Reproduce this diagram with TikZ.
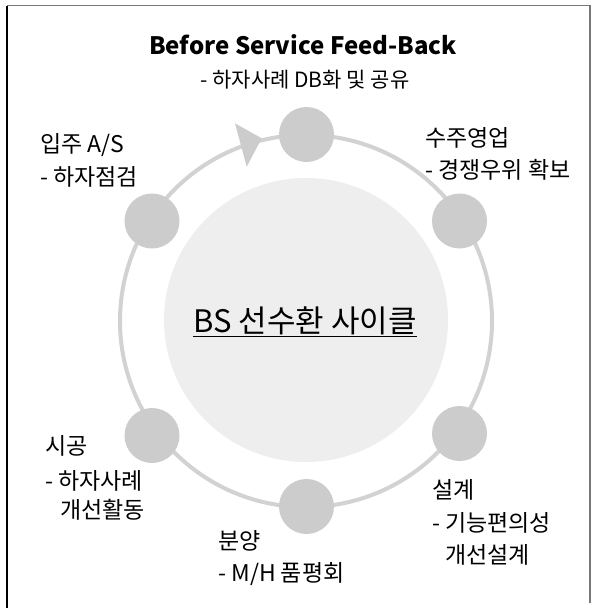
\documentclass[tikz,border=0pt]{standalone}
\usepackage{fontspec}
\setmainfont{Noto Sans CJK KR}
\definecolor{nodegray}{HTML}{CCCCCC}
\definecolor{ringgray}{HTML}{D2D2D2}
\definecolor{innergray}{HTML}{EEEEEE}
\definecolor{framegray}{HTML}{777777}
\begin{document}
\begin{tikzpicture}[x=1pt,y=-1pt,
  stage/.style={circle,fill=nodegray,minimum size=55pt,inner sep=0pt},
  lbl/.style={anchor=west,inner sep=0pt,font=\fontsize{23}{26}\selectfont},
  title/.style={anchor=center,inner sep=0pt,font=\fontsize{24}{28}\selectfont\bfseries},
  sub/.style={anchor=center,inner sep=0pt,font=\fontsize{21}{24}\selectfont}]
\useasboundingbox (0,0) rectangle (595,608);
\fill[white] (0,0) rectangle (595,608);
% frame
\draw[black,line width=1.2pt] (7,5.5) -- (7,608);
\draw[framegray,line width=1.5pt] (7,5.5) -- (590,5.5) -- (590,603);
% inner disc and ring
\fill[innergray] (306,320) circle (142pt);
\draw[ringgray,line width=4pt] (306,321) circle (186pt);
% arrow head on ring
\fill[nodegray] (235,123.3) -- (261.7,138.3) -- (246.7,166.7) -- cycle;
% stage nodes
\node[stage] (top) at (306.5,134.5) {};
\node[stage] (rt) at (459.5,221) {};
\node[stage] (rb) at (459.5,433.5) {};
\node[stage] (bot) at (306.5,506.5) {};
\node[stage] (lb) at (152,435.5) {};
\node[stage] (lt) at (152,221) {};
% center text
\node[inner sep=0pt,font=\fontsize{31}{34}\selectfont] (center) at (305,322) {\underline{BS 선수환 사이클}};
% top title
\node[title] (t1) at (303,45) {Before Service Feed-Back};
\node[sub] (t2) at (305,80) {- 하자사례 DB화 및 공유};
% labels
\node[lbl] (a1) at (40,145) {입주 A/S};
\node[lbl] (a2) at (40,177) {- 하자점검};
\node[lbl] (b1) at (425,138) {수주영업};
\node[lbl] (b2) at (425,170) {- 경쟁우위 확보};
\node[lbl] (c1) at (45,446) {시공};
\node[lbl] (c2) at (45,481) {- 하자사례};
\node[lbl] (c3) at (60,510) {개선활동};
\node[lbl] (d1) at (218,541) {분양};
\node[lbl] (d2) at (218,574) {- M/H 품평회};
\node[lbl] (e1) at (432,490) {설계};
\node[lbl] (e2) at (432,523) {- 기능편의성};
\node[lbl] (e3) at (445,555) {개선설계};
\end{tikzpicture}
\end{document}
